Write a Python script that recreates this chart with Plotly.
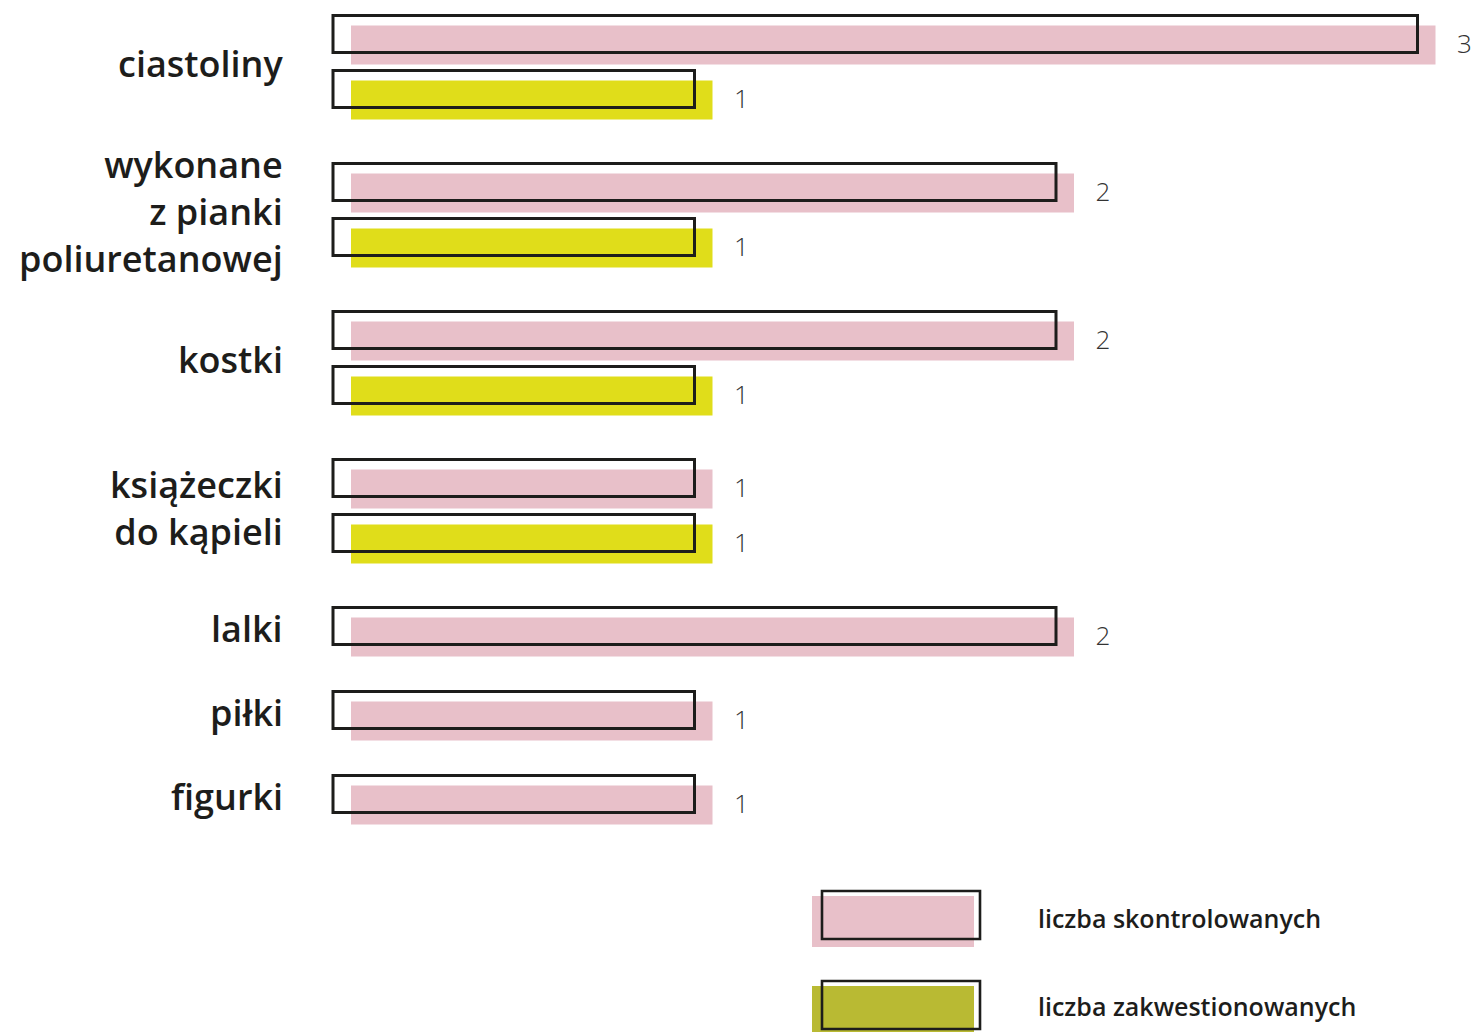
import plotly.graph_objects as go

# ---------------- data ----------------
categories = [
    "ciastoliny",
    "wykonane<br>z pianki<br>poliuretanowej",
    "kostki",
    "książeczki<br>do kąpieli",
    "lalki",
    "piłki",
    "figurki",
]
skontrolowane = [3, 2, 2, 1, 2, 1, 1]
zakwestionowane = [1, 1, 1, 1, None, None, None]
legend_labels = ["liczba skontrolowanych", "liczba zakwestionowanych"]

# ---------------- style / layout ----------------
PINK = "#e8c0c9"
YELLOW = "#e0dd1a"
OLIVE = "#b9ba33"
INK = "#1d1d1b"
W, H = 1473, 1032
PX_PER_UNIT = 361.5
BASE_PX = 351
FILL_H = 39
OUT_H = 37
OUT_SHIFT_Y = -11
OUT_SHIFT_X = -18 / PX_PER_UNIT
TOP = 45
IN_GAP = 55
GROUP_GAP = 93
SINGLE_GAP = 84
LABEL_DX = 29 / PX_PER_UNIT
LABEL_DY = 1
CAT_DY = -9
CAT_RIGHT_PX = 285

LABEL_FONT = "Open Sans, Noto Sans, sans-serif"

# compute row slots
fill_x, fill_y, fill_c = [], [], []
group_centers = []
y = TOP
for i, cat in enumerate(categories):
    if i > 0:
        y += GROUP_GAP if zakwestionowane[i - 1] is not None else SINGLE_GAP
    ys = [y]
    fill_x.append(skontrolowane[i]); fill_y.append(y); fill_c.append(PINK)
    if zakwestionowane[i] is not None:
        y += IN_GAP
        ys.append(y)
        fill_x.append(zakwestionowane[i]); fill_y.append(y); fill_c.append(YELLOW)
    group_centers.append(sum(ys) / len(ys))

fig = go.Figure()

fig.add_trace(go.Bar(
    orientation="h", x=fill_x, y=fill_y, base=0, width=FILL_H,
    marker=dict(color=fill_c, line=dict(width=0)), hoverinfo="skip",
))
fig.add_trace(go.Bar(
    orientation="h", x=fill_x, y=[v + OUT_SHIFT_Y for v in fill_y],
    base=OUT_SHIFT_X, width=OUT_H,
    marker=dict(color="rgba(0,0,0,0)", line=dict(color=INK, width=3)),
    hoverinfo="skip",
))
fig.add_trace(go.Scatter(
    x=[v + LABEL_DX for v in fill_x], y=[v + LABEL_DY for v in fill_y],
    mode="text", text=[str(v) for v in fill_x], textposition="middle center",
    textfont=dict(family="Open Sans, sans-serif", size=26, color="#333333", weight=300),
    hoverinfo="skip",
))

for cat, gc in zip(categories, group_centers):
    fig.add_annotation(
        x=CAT_RIGHT_PX / W, xref="paper", y=gc + CAT_DY, yref="y",
        text=cat, showarrow=False, xanchor="right", yanchor="middle", align="right",
        font=dict(family=LABEL_FONT, size=36, color=INK, weight=600),
    )

# legend (drawn manually)
legend_items = [(PINK, 896, 947, 891, 939, 918), (OLIVE, 986, 1032, 981, 1029, 1006)]
for (col, fy0, fy1, oy0, oy1, ty), lab in zip(legend_items, legend_labels):
    fig.add_shape(type="rect", xref="paper", yref="paper",
                  x0=812 / W, x1=974 / W, y0=1 - fy1 / H, y1=1 - fy0 / H,
                  fillcolor=col, line=dict(width=0), layer="below")
    fig.add_shape(type="rect", xref="paper", yref="paper",
                  x0=822 / W, x1=980 / W, y0=1 - oy1 / H, y1=1 - oy0 / H,
                  fillcolor="rgba(0,0,0,0)", line=dict(color=INK, width=2.6))
    fig.add_annotation(x=1036 / W, xref="paper", y=1 - ty / H, yref="paper",
                       text=lab, showarrow=False, xanchor="left", yanchor="middle",
                       font=dict(family=LABEL_FONT, size=25, color=INK, weight=600))

x0 = -BASE_PX / PX_PER_UNIT
fig.update_layout(
    width=W, height=H, margin=dict(l=0, r=0, t=0, b=0),
    paper_bgcolor="white", plot_bgcolor="white",
    barmode="overlay", showlegend=False,
    xaxis=dict(range=[x0, x0 + W / PX_PER_UNIT], visible=False, fixedrange=True),
    yaxis=dict(range=[H, 0], visible=False, fixedrange=True),
)

fig.write_html(
    "out.html",
    config={"displayModeBar": False},
    post_script="document.body.style.margin='0';document.body.style.overflow='hidden';",
)
